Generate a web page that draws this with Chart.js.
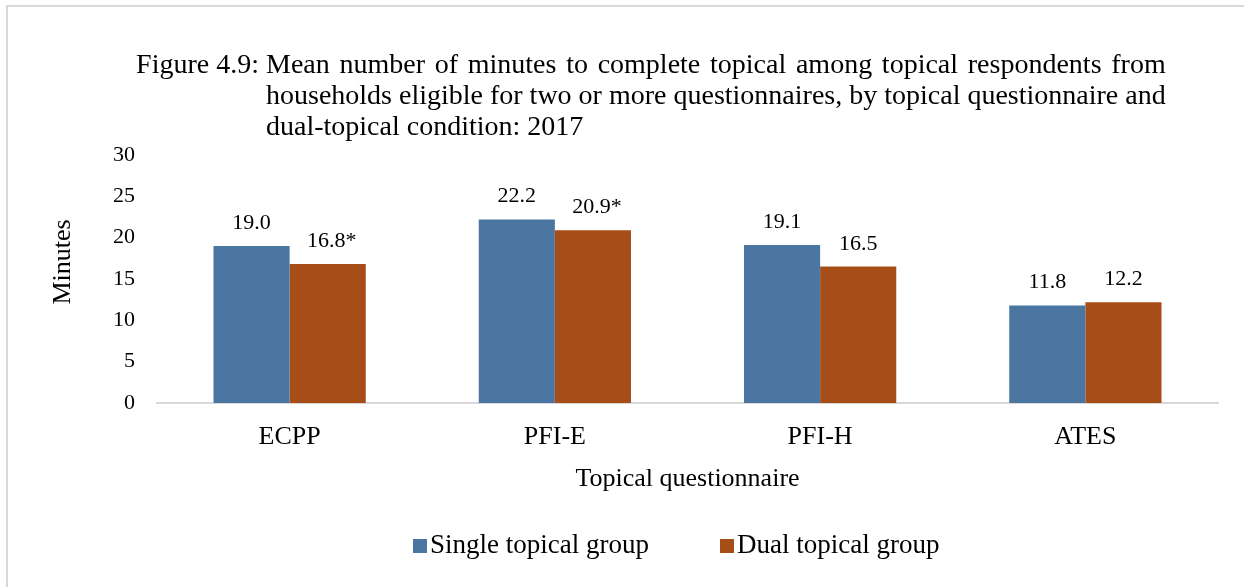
<!DOCTYPE html>
<html><head><meta charset="utf-8">
<script src="https://cdn.jsdelivr.net/npm/chart.js@4.4.1/dist/chart.umd.min.js"></script>
<style>
html,body{margin:0;padding:0;background:#fff;}
#wrap{position:relative;width:1244px;height:587px;overflow:hidden;background:#fff;}
#frame{position:absolute;left:6px;top:5px;width:1300px;height:700px;border-left:2px solid #d9d9d9;border-top:2px solid #d9d9d9;box-sizing:border-box;pointer-events:none;}
canvas{position:absolute;left:0;top:0;}
</style></head><body>
<div id="wrap"><canvas id="c" width="1244" height="587"></canvas><div id="frame"></div></div>
<script>
const categories = ["ECPP", "PFI-E", "PFI-H", "ATES"];
const singleValues = [19.0, 22.2, 19.1, 11.8];
const dualValues = [16.8, 20.9, 16.5, 12.2];
const singleMarks = ["", "", "", ""];
const dualMarks = ["*", "*", "", ""];
const seriesNames = ["Single topical group", "Dual topical group"];
const yTicks = [0, 5, 10, 15, 20, 25, 30];
const titleLabel = "Figure 4.9:";
const titleLines = [
  "Mean number of minutes to complete topical among topical respondents from",
  "households eligible for two or more questionnaires, by topical questionnaire and",
  "dual-topical condition: 2017"
];
const xAxisTitle = "Topical questionnaire";
const yAxisTitle = "Minutes";

const FONT = "'Liberation Serif', 'Times New Roman', serif";
const BLUE = "#4a76a1";
const ORANGE = "#a74d18";

function drawJustified(ctx, text, x0, x1, y) {
  const words = text.split(" ");
  const total = words.reduce((s, w) => s + ctx.measureText(w).width, 0);
  const gap = (x1 - x0 - total) / (words.length - 1);
  let x = x0;
  words.forEach(w => { ctx.fillText(w, x, y); x += ctx.measureText(w).width + gap; });
}

const decorPlugin = {
  id: "decor",
  afterDraw(chart) {
    const ctx = chart.ctx;
    ctx.save();
    ctx.fillStyle = "#000";
    ctx.font = "28px " + FONT;
    ctx.textBaseline = "alphabetic";
    ctx.textAlign = "left";
    const tY = [73, 104, 135];
    const indent = 266;
    const right = indent + ctx.measureText(titleLines[1]).width;
    ctx.fillText(titleLabel, indent - 7 - ctx.measureText(titleLabel).width, tY[0]);
    drawJustified(ctx, titleLines[0], indent, right, tY[0]);
    ctx.fillText(titleLines[1], indent, tY[1]);
    ctx.fillText(titleLines[2], indent, tY[2]);
    // Y axis title
    ctx.save();
    ctx.translate(63, 262);
    ctx.rotate(-Math.PI / 2);
    ctx.font = "26px " + FONT;
    ctx.textAlign = "center";
    ctx.textBaseline = "middle";
    ctx.fillText(yAxisTitle, 0, 0);
    ctx.restore();
    // Data labels
    ctx.font = "22px " + FONT;
    ctx.textAlign = "center";
    ctx.textBaseline = "alphabetic";
    const marks = [singleMarks, dualMarks];
    chart.data.datasets.forEach((ds, di) => {
      const meta = chart.getDatasetMeta(di);
      meta.data.forEach((bar, i) => {
        const txt = ds.data[i].toFixed(1) + marks[di][i];
        ctx.fillText(txt, bar.x + (marks[di][i] ? 4 : 0), bar.y - 17);
      });
    });
    // Legend
    ctx.font = "27px " + FONT;
    ctx.textAlign = "left";
    ctx.textBaseline = "middle";
    const lx = [413, 720];
    chart.data.datasets.forEach((ds, di) => {
      ctx.fillStyle = ds.backgroundColor;
      ctx.fillRect(lx[di], 539, 14, 14);
      ctx.fillStyle = "#000";
      ctx.fillText(ds.label, lx[di] + 17, 546);
    });
    ctx.restore();
  }
};

new Chart(document.getElementById("c"), {
  type: "bar",
  data: {
    labels: categories,
    datasets: [
      { label: seriesNames[0], data: singleValues, backgroundColor: BLUE, borderWidth: 0 },
      { label: seriesNames[1], data: dualValues, backgroundColor: ORANGE, borderWidth: 0 }
    ]
  },
  options: {
    responsive: false,
    animation: false,
    devicePixelRatio: 1,
    layout: { padding: { top: 155, right: 26, left: 0, bottom: 0 } },
    plugins: { legend: { display: false }, title: { display: false }, tooltip: { enabled: false } },
    datasets: { bar: { categoryPercentage: 0.574, barPercentage: 1 } },
    scales: {
      x: {
        grid: { display: false, drawTicks: false },
        border: { display: true, color: "#d9d9d9", width: 2 },
        ticks: { font: { family: FONT, size: 26 }, color: "#000", padding: 19 },
        title: { display: true, text: xAxisTitle, font: { family: FONT, size: 26 }, color: "#000", padding: { top: 0, bottom: 92 } },
        afterFit(scale) { scale.height = 184; }
      },
      y: {
        min: 0, max: 30,
        afterBuildTicks(scale) { scale.ticks = yTicks.map(v => ({ value: v })); },
        grid: { display: false, drawTicks: false },
        border: { display: false },
        ticks: { font: { family: FONT, size: 22 }, color: "#000", padding: 22 },
        afterFit(scale) { scale.width = 157; }
      }
    }
  },
  plugins: [decorPlugin]
});
</script>
</body></html>
